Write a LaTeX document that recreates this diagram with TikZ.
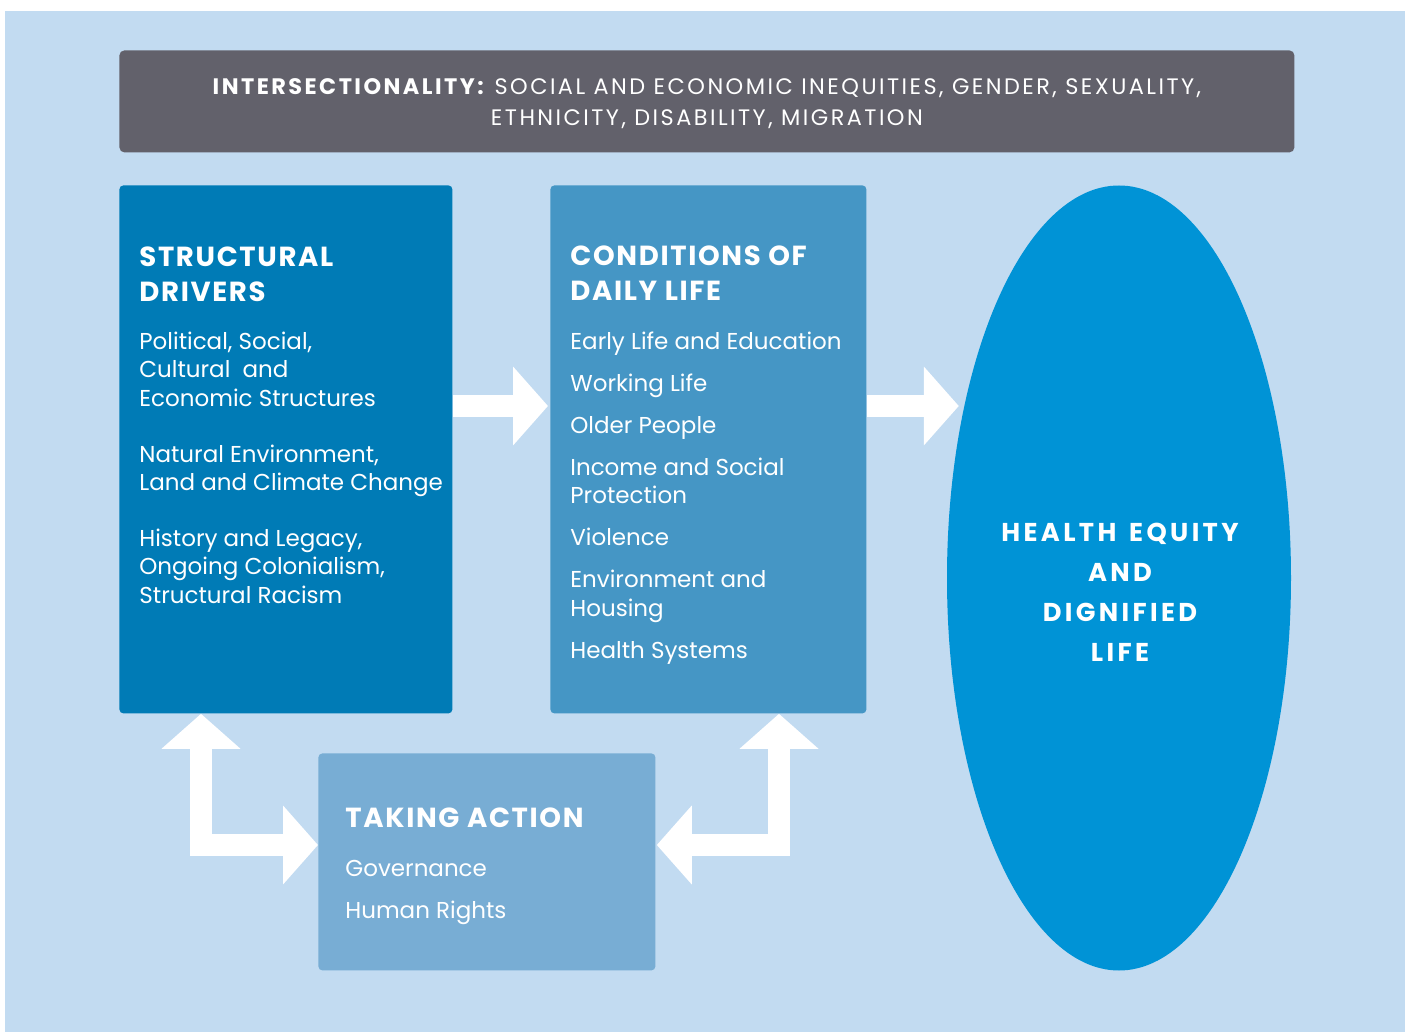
\documentclass[tikz,border=0pt]{standalone}
\usepackage{fontspec}
\setmainfont{Poppins}
\usetikzlibrary{arrows.meta, positioning, shapes.geometric, calc}

\definecolor{bgblue}{HTML}{C2DBF1}
\definecolor{intergrey}{HTML}{62616B}
\definecolor{structblue}{HTML}{007BB6}
\definecolor{condblue}{HTML}{4596C5}
\definecolor{actionblue}{HTML}{78ADD4}
\definecolor{equityblue}{HTML}{0093D6}

\begin{document}
\begin{tikzpicture}[
		x=0.5pt, y=-0.5pt,
		>={Triangle[length=17.5pt, width=38.5pt]},
		panel/.style     ={rounded corners=2pt, anchor=north west, inner sep=0pt, minimum width=#1},
		heading/.style   ={text=white, align=left, anchor=north west, inner sep=0pt, font=\bfseries\fontsize{13.8}{17.5}\selectfont\addfontfeature{LetterSpace=6}},
		items/.style     ={text=white, align=left, anchor=north west, inner sep=0pt, font=\fontsize{11.5}{14.2}\selectfont},
		blockarrow/.style={draw=white, line width=11pt}
		]
		
		\useasboundingbox (0,0) rectangle (1405,1032);
		\fill[white]  (0,0) rectangle (1405,1032);
		\fill[bgblue] (5,11) rectangle (1405,1032);
		
		% --- Intersectionality banner ---
		\node[panel=587.5pt, fill=intergrey, minimum height=51pt, rounded corners=2.5pt] (inter) at (119,50) {};
		\node[text=white, align=center, inner sep=0pt, anchor=north,
			font=\fontsize{11.2}{15.5}\selectfont\addfontfeature{LetterSpace=11}]
			(intertext) at ($(inter.north)+(0,22)$)
			{\strut\textbf{INTERSECTIONALITY:} SOCIAL AND ECONOMIC INEQUITIES, GENDER, SEXUALITY,\\ ETHNICITY, DISABILITY, MIGRATION};
		
		% --- Structural drivers ---
		\node[panel=166.5pt, fill=structblue, minimum height=264pt] (sd) at (119,185) {};
		\node[heading] (sdhead) at ($(sd.north west)+(20,56.5)$) {\strut STRUCTURAL\\DRIVERS};
		\node[items]   (sditems) at ($(sd.north west)+(20,144)$)
			{\strut Political, Social,\\ Cultural\ \ and\\ Economic Structures\\[13.8pt]
			 Natural Environment,\\ Land and Climate Change\\[13.8pt]
			 History and Legacy,\\ Ongoing Colonialism,\\ Structural Racism};
		
		% --- Conditions of daily life ---
		\node[panel=158pt, fill=condblue, minimum height=264pt] (cd) at (550,185) {};
		\node[heading] (cdhead) at ($(cd.north west)+(20,55.5)$) {\strut CONDITIONS OF\\DAILY LIFE};
		\node[items]   (cditems) at ($(cd.north west)+(20,144)$)
			{\strut Early Life and Education\\[6.8pt]
			 Working Life\\[6.8pt]
			 Older People\\[6.8pt]
			 Income and Social\\ Protection\\[6.8pt]
			 Violence\\[6.8pt]
			 Environment and\\ Housing\\[6.8pt]
			 Health Systems};
		
		% --- Taking action ---
		\node[panel=168.5pt, fill=actionblue, minimum height=108.5pt] (ta) at (318,753) {};
		\node[heading] (tahead) at ($(ta.north west)+(27,49.5)$) {\strut TAKING ACTION};
		\node[items]   (taitems) at ($(ta.north west)+(27,103)$)
			{\strut Governance\\[6.8pt]
			 Human Rights};
		
		% --- Health equity ---
		\node[ellipse, fill=equityblue, inner sep=0pt, minimum width=172pt, minimum height=392.5pt] (equity) at (1119,578) {};
		\node[heading, align=center, anchor=north, font=\bfseries\fontsize{12.9}{20}\selectfont\addfontfeature{LetterSpace=13}]
			(eqtext) at ($(equity.center)+(1,-65)$) {\strut HEALTH\hspace{2pt} EQUITY\\AND\\DIGNIFIED\\LIFE};
		
		% --- Block arrows ---
		\coordinate (eqin) at ($(cd.north east)+(92,221)$);
		\draw[blockarrow, ->] ($(sd.north east)+(0,221)$) -- ($(cd.north west)+(-2,221)$);
		\draw[blockarrow, ->] ($(cd.north east)+(0,221)$) -- (eqin);
		\draw[blockarrow, <->] ($(sd.south west)+(82,0)$) |- ($(ta.north west)+(0,92)$);
		\draw[blockarrow, <->] ($(cd.south west)+(229,0)$) |- ($(ta.north east)+(1,92)$);
		
	\end{tikzpicture}
\end{document}
